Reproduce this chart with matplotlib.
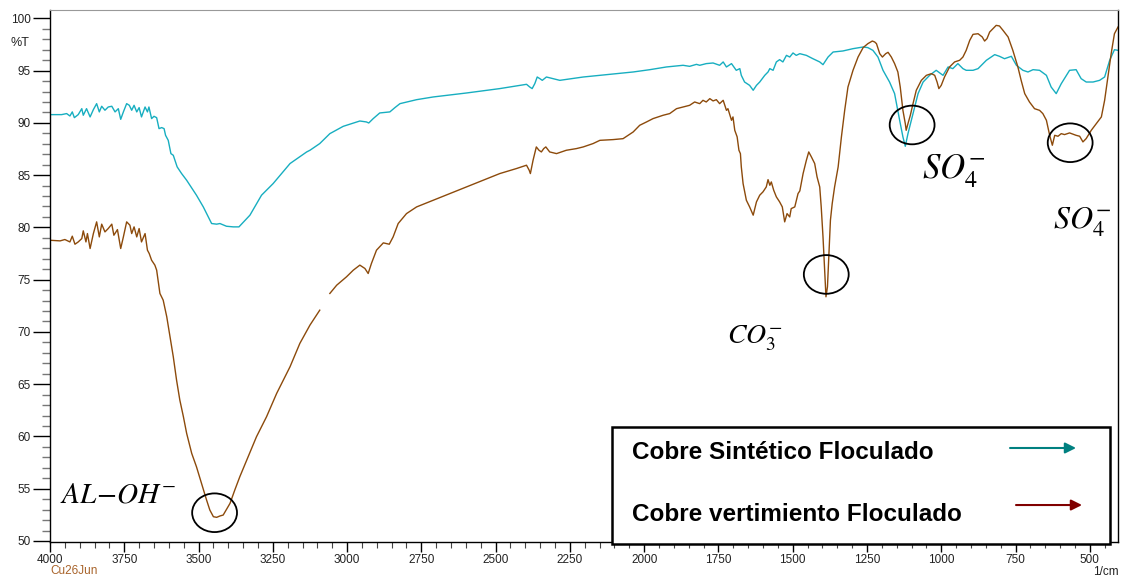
"""IR spectra: Cobre sintetico vs Cobre vertimiento (floculado)."""

import matplotlib
matplotlib.use('Agg')
import matplotlib.pyplot as plt
from matplotlib.patches import Ellipse, Rectangle
import numpy as np

# ---------------------------------------------------------------------------
# Data (wavenumber in 1/cm, transmittance in %T)
# ---------------------------------------------------------------------------

sintetico_wn = [
    4000, 3961, 3944, 3933, 3925, 3918, 3905, 3893, 3888, 3877,
    3865, 3854, 3843, 3834, 3826, 3815, 3804, 3792, 3781, 3770,
    3762, 3753, 3742, 3733, 3725, 3717, 3708, 3700, 3692, 3680,
    3672, 3667, 3658, 3650, 3641, 3633, 3624, 3616, 3611, 3602,
    3593, 3585, 3572, 3557, 3540, 3507, 3484, 3456, 3439, 3428,
    3406, 3383, 3364, 3327, 3288, 3249, 3192, 3136,
    3125, 3092, 3058, 3013, 2957, 2935, 2927, 2912, 2890, 2856,
    2839, 2822, 2766, 2710, 2598, 2486, 2396, 2385, 2377, 2368,
    2360, 2351, 2343, 2329, 2306, 2284, 2205, 2149, 2071, 2037,
    1981, 1925, 1869, 1847, 1824,
    1813, 1791, 1768, 1746, 1734, 1723, 1706, 1690, 1678, 1673,
    1662, 1645, 1633, 1622, 1611, 1594, 1583, 1577, 1566, 1555,
    1544, 1533, 1521, 1510, 1499, 1488, 1476, 1454, 1432, 1409,
    1398, 1381, 1364, 1331, 1297, 1263, 1247, 1230, 1213, 1196,
    1174, 1157, 1140, 1129, 1121, 1112, 1095, 1078, 1061, 1039,
    1017, 994, 977, 961, 944, 927, 916, 893, 876, 848,
    820, 804, 787, 764, 747, 725, 708, 691, 669, 646,
    630, 613, 596, 568, 546, 529, 512, 489, 467, 450,
    433, 417, 405,
]
sintetico_t = [
    90.79, 90.79, 90.89, 90.66, 91.05, 90.50, 90.79, 91.36, 90.73, 91.36,
    90.57, 91.27, 91.84, 91.05, 91.59, 91.21, 91.52, 91.59, 91.05, 91.36,
    90.34, 91.05, 91.84, 91.68, 91.21, 91.68, 91.05, 91.46, 90.57, 91.52,
    91.05, 91.52, 90.41, 90.63, 90.50, 89.45, 89.55, 89.45, 88.81, 88.33,
    87.06, 86.90, 85.79, 85.15, 84.51, 83.08, 81.96, 80.37, 80.31, 80.37,
    80.11, 80.05, 80.05, 81.17, 83.08, 84.19, 86.11, 87.22,
    87.38, 88.02, 88.97, 89.67, 90.18, 90.09, 89.99, 90.41, 90.95, 91.05,
    91.46, 91.84, 92.22, 92.48, 92.86, 93.28, 93.69, 93.43, 93.28, 93.76,
    94.39, 94.23, 94.07, 94.39, 94.23, 94.07, 94.39, 94.55, 94.77, 94.87,
    95.09, 95.35, 95.51, 95.41, 95.60,
    95.51, 95.67, 95.73, 95.51, 95.83, 95.35, 95.67, 95.03, 95.19, 94.55,
    93.91, 93.59, 93.12, 93.59, 93.91, 94.55, 94.87, 95.19, 95.03, 95.83,
    96.05, 95.83, 96.46, 96.30, 96.69, 96.46, 96.62, 96.46, 96.14, 95.83,
    95.57, 96.30, 96.78, 96.88, 97.10, 97.26, 97.20, 96.94, 96.30, 95.03,
    93.91, 92.80, 90.25, 88.66, 87.76, 88.97, 90.89, 92.80, 93.91, 94.55,
    95.03, 94.55, 95.35, 95.19, 95.67, 95.19, 95.03, 95.03, 95.19, 95.99,
    96.53, 96.37, 96.14, 96.37, 95.51, 95.03, 94.87, 95.09, 95.03, 94.55,
    93.43, 92.80, 93.75, 95.03, 95.09, 94.23, 93.91, 93.91, 94.07, 94.39,
    95.99, 97.00, 96.94,
]

# nan marks the small break in the trace near 3070 1/cm
vertimiento_wn = [
    4000, 3966, 3950, 3933, 3925, 3916, 3905, 3893, 3888, 3879,
    3874, 3865, 3854, 3843, 3834, 3826, 3815, 3804, 3792, 3785,
    3773, 3762, 3753, 3742, 3731, 3725, 3717, 3708, 3700, 3692,
    3680, 3672, 3666, 3658,
    3647, 3641, 3630, 3619, 3607, 3596, 3585, 3574, 3563, 3551,
    3540, 3523, 3507, 3490, 3473, 3462, 3450, 3439, 3428, 3417,
    3394, 3378, 3361, 3333, 3305, 3271, 3237, 3192, 3159, 3125,
    3092, 3075, 3058, 3035, 3002, 2979, 2957, 2940, 2929, 2918,
    2901, 2878, 2858, 2845, 2828, 2800, 2766, 2710, 2654, 2598,
    2542, 2486, 2430, 2396, 2387, 2383, 2374, 2363, 2354, 2346,
    2338, 2331, 2318, 2295, 2262, 2228, 2205, 2172, 2149, 2105,
    2071, 2037, 2015, 1992, 1970, 1936, 1914, 1891, 1869, 1847,
    1830,
    1813, 1802, 1791, 1779, 1768, 1757, 1746, 1734, 1723, 1718,
    1706, 1701, 1695, 1687, 1681, 1676, 1673, 1667, 1656, 1645,
    1633, 1622, 1611, 1600, 1589, 1583, 1577, 1572, 1564, 1555,
    1544, 1535, 1527, 1519, 1510, 1505, 1493, 1482, 1476, 1465,
    1454, 1446, 1437, 1426, 1418, 1409, 1404, 1398, 1392, 1388,
    1383, 1378, 1373, 1367, 1359, 1347, 1336, 1325, 1314, 1297,
    1280, 1263, 1247, 1232, 1224, 1218, 1207, 1198, 1187, 1179,
    1168, 1157, 1146, 1138, 1129, 1121, 1118, 1112, 1104, 1095,
    1084, 1067, 1050, 1033, 1022, 1014, 1008, 1000, 989, 972,
    955, 938, 927, 916, 904, 893, 876, 862, 854, 846,
    837, 826, 815, 804, 792, 775, 759, 742, 731, 719,
    703, 686, 669, 658, 646, 635, 626, 618, 607, 596,
    585, 568, 546, 534, 523, 512, 495, 478, 461, 450,
    439, 428, 417, 405,
]
vertimiento_t = [
    78.77, 78.71, 78.84, 78.61, 79.16, 78.39, 78.61, 78.93, 79.67, 78.61,
    79.41, 77.98, 79.41, 80.53, 79.09, 80.31, 79.57, 79.89, 80.31, 79.25,
    79.79, 77.98, 79.09, 80.53, 80.21, 79.41, 80.05, 79.09, 79.89, 78.61,
    79.41, 77.82, 77.50, 76.86,
    76.39, 75.91, 73.68, 73.04, 71.45, 69.53, 67.62, 65.39, 63.48, 61.89,
    60.29, 58.38, 57.10, 55.51, 53.92, 52.96, 52.32, 52.26, 52.39, 52.48,
    53.60, 54.87, 56.15, 58.06, 59.97, 61.89, 64.12, 66.67, 68.90, 70.65,
    72.08, np.nan, 73.68, 74.47, 75.27, 75.91, 76.39, 76.07, 75.59, 76.55,
    77.82, 78.52, 78.39, 79.09, 80.37, 81.32, 81.96, 82.60, 83.24, 83.87,
    84.51, 85.15, 85.63, 85.95, 85.47, 85.15, 86.42, 87.70, 87.38, 87.22,
    87.54, 87.70, 87.22, 87.06, 87.38, 87.54, 87.70, 88.02, 88.33, 88.40,
    88.49, 89.13, 89.77, 90.09, 90.41, 90.73, 90.89, 91.36, 91.52, 91.68,
    92.00,
    91.84, 92.16, 92.00, 92.32, 92.10, 92.22, 91.84, 92.16, 91.20, 91.36,
    90.25, 90.57, 89.29, 88.66, 87.38, 87.06, 85.79, 84.19, 82.60, 81.96,
    81.17, 82.44, 83.08, 83.40, 83.87, 84.57, 84.03, 84.35, 83.56, 82.92,
    82.44, 81.96, 80.53, 81.32, 81.00, 81.80, 81.96, 83.24, 83.49, 85.15,
    86.42, 87.22, 86.74, 86.11, 84.83, 83.87, 81.96, 79.09, 75.59, 73.36,
    74.31, 77.50, 80.69, 82.28, 83.87, 85.79, 88.66, 91.20, 93.43, 95.03,
    96.30, 97.20, 97.58, 97.83, 97.74, 97.58, 96.62, 96.30, 96.62, 96.75,
    96.30, 95.67, 94.87, 93.43, 91.20, 89.93, 89.29, 89.93, 90.73, 91.84,
    93.12, 94.07, 94.55, 94.71, 94.55, 93.91, 93.28, 93.59, 94.39, 95.35,
    95.83, 95.99, 96.30, 96.94, 97.90, 98.47, 98.53, 98.22, 97.83, 98.06,
    98.69, 99.01, 99.33, 99.27, 98.85, 98.22, 96.94, 95.35, 94.07, 92.80,
    92.00, 91.36, 91.20, 90.89, 90.25, 88.81, 87.86, 88.81, 88.72, 88.97,
    88.88, 89.04, 88.81, 88.72, 88.18, 88.50, 89.29, 89.93, 90.57, 92.16,
    94.39, 96.62, 98.53, 99.17,
]

series_labels = ['Cobre Sintético Floculado', 'Cobre vertimiento Floculado']

# band assignments: (label, wavenumber, %T at label baseline)
band_labels = [r'$AL\!-\!OH^{-}$', r'$CO_3^{-}$', r'$SO_4^{-}$', r'$SO_4^{-}$']
band_label_wn = [3966, 1722, 1066, 625]
band_label_t = [53.7, 68.9, 84.7, 79.9]
band_label_size = [21, 20, 25, 23]

# circled peaks
circle_wn = [3446, 1387, 1098, 566]
circle_t = [52.7, 75.5, 89.8, 88.1]

# ---------------------------------------------------------------------------
# Style
# ---------------------------------------------------------------------------

_COLORS = {
    'sintetico': '#17AEC0',
    'vertimiento': '#8C4A0B',
    'arrow_sint': '#008080',
    'arrow_vert': '#800000',
    'stamp': '#A8632A',
}

plt.rcParams['font.family'] = 'Liberation Sans'
plt.rcParams['mathtext.fontset'] = 'stix'

fig = plt.figure(figsize=(11.23, 5.77), dpi=100)
ax = fig.add_axes([50 / 1123, 35 / 577, 1068 / 1123, 532 / 577])

assert len(sintetico_wn) == len(sintetico_t)
assert len(vertimiento_wn) == len(vertimiento_t)

ax.plot(sintetico_wn, sintetico_t, color=_COLORS['sintetico'], lw=1.0)
ax.plot(vertimiento_wn, vertimiento_t, color=_COLORS['vertimiento'], lw=1.0)

ax.set_xlim(4000, 405)
ax.set_ylim(49.9, 100.8)

# ticks
ax.set_xticks(np.arange(4000, 499, -250))
ax.set_xticks(np.arange(4000, 404, -50), minor=True)
ax.set_yticks(np.arange(50, 101, 5))
ax.set_yticks(np.arange(50, 101, 1), minor=True)
ax.tick_params(axis='both', which='major', direction='out', labelsize=8.5,
               labelcolor='#222222', color='black', width=1.0)
ax.tick_params(axis='y', which='major', length=12, pad=2)
ax.tick_params(axis='y', which='minor', length=6, color='#777777', width=1.0)
ax.tick_params(axis='x', which='major', length=7, pad=1.5)
ax.tick_params(axis='x', which='minor', length=4, color='#444444', width=0.8)

for side in ('left', 'bottom', 'right'):
    ax.spines[side].set_color('black')
    ax.spines[side].set_linewidth(1.0)
ax.spines['top'].set_color('#999999')
ax.spines['top'].set_linewidth(0.8)

# circled peaks
for wn, t in zip(circle_wn, circle_t):
    ax.add_patch(Ellipse((wn, t), width=151, height=3.7, fill=False,
                         edgecolor='black', lw=1.3, zorder=5))

# band labels
for lab, wn, t, size in zip(band_labels, band_label_wn, band_label_t,
                            band_label_size):
    ax.text(wn, t, lab, fontsize=size, ha='left', va='baseline', color='black')

# legend box
ax.add_patch(Rectangle((0.5262, -0.004), 0.4663, 0.2202, transform=ax.transAxes,
                       facecolor='white', edgecolor='black', lw=1.8,
                       clip_on=False, zorder=6))
ax.text(0.545, 0.1673, series_labels[0], transform=ax.transAxes,
        fontsize=17.5, fontweight='bold', ha='left', va='center', zorder=7)
ax.text(0.545, 0.0526, series_labels[1], transform=ax.transAxes,
        fontsize=17.5, fontweight='bold', ha='left', va='center', zorder=7)
ax.annotate('', xy=(0.9607, 0.1767), xytext=(0.8989, 0.1767),
            xycoords='axes fraction', zorder=7,
            arrowprops=dict(arrowstyle='-|>', color=_COLORS['arrow_sint'],
                            lw=1.5, mutation_scale=16, shrinkA=0, shrinkB=0))
ax.annotate('', xy=(0.9663, 0.0695), xytext=(0.9045, 0.0695),
            xycoords='axes fraction', zorder=7,
            arrowprops=dict(arrowstyle='-|>', color=_COLORS['arrow_vert'],
                            lw=1.5, mutation_scale=16, shrinkA=0, shrinkB=0))

# instrument stamps
fig.text(20 / 1123, 1 - 43 / 577, '%T', fontsize=9, color='#222222',
         ha='center', va='center')
fig.text(50 / 1123, 1 - 571 / 577, 'Cu26Jun', fontsize=8.5,
         color=_COLORS['stamp'], ha='left', va='center')
fig.text(1119 / 1123, 1 - 572 / 577, '1/cm', fontsize=8.5, color='#222222',
         ha='right', va='center')

fig.savefig('out.png', dpi=100)
